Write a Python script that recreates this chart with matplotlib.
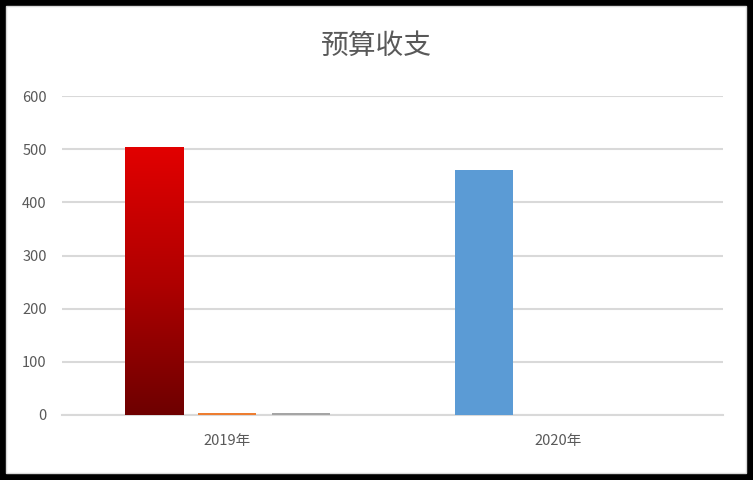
import matplotlib
matplotlib.use("Agg")
import matplotlib.pyplot as plt
import numpy as np
from matplotlib.patches import Rectangle
from matplotlib.colors import LinearSegmentedColormap

plt.rcParams['font.family'] = ['Noto Sans CJK SC', 'DejaVu Sans']

title = "预算收支"
categories = ["2019年", "2020年"]
series_names = ["系列1", "系列2", "系列3"]
series1 = [505, 460]
series2 = [3, 0]
series3 = [3, 0]
yticks = [0, 100, 200, 300, 400, 500, 600]

fig = plt.figure(figsize=(7.53, 4.80), dpi=100)
fig.patch.set_facecolor("black")
# white chart area with a thin light border
fig.patches.append(Rectangle((6 / 753, 7 / 480), 740 / 753, 467 / 480,
                             transform=fig.transFigure, facecolor="white",
                             edgecolor="#D9D9D9", linewidth=1, zorder=-5))

ax = fig.add_axes([62 / 753, 1 - 415 / 480, 661 / 753, 319 / 480])
ax.set_facecolor("none")
ax.set_zorder(2)

x = np.arange(len(categories))
w = 0.176
off = 0.222

b1 = ax.bar(x - off, series1, w, color=["#E00000", "#5B9BD5"], zorder=3, label=series_names[0])
b2 = ax.bar(x, series2, w, color="#ED7D31", zorder=3, label=series_names[1])
b3 = ax.bar(x + off, series3, w, color="#A5A5A5", zorder=3, label=series_names[2])

# gradient fill for the 2019 point of series 1
p = b1.patches[0]
x0, y0 = p.get_x(), p.get_y()
x1, y1 = x0 + p.get_width(), y0 + p.get_height()
cmap = LinearSegmentedColormap.from_list("redgrad", ["#6E0000", "#B00000", "#E20000"])
grad = np.linspace(0, 1, 256).reshape(-1, 1)
im = ax.imshow(grad, extent=[x0, x1, y0, y1], origin="lower", aspect="auto",
               cmap=cmap, zorder=4)
im.set_clip_path(p)
p.set_facecolor("none")

ax.set_xlim(-0.5, 1.5)
ax.set_ylim(0, 600)
ax.set_yticks(yticks)
ax.set_yticklabels([str(v) for v in yticks])
ax.set_xticks(x)
ax.set_xticklabels(categories)
ax.grid(axis="y", color="#D9D9D9", linewidth=1.5, zorder=0)
ax.set_axisbelow(True)
for s in ["top", "right", "left"]:
    ax.spines[s].set_visible(False)
ax.spines["bottom"].set_color("#D9D9D9")
ax.spines["bottom"].set_linewidth(1.5)
ax.spines["bottom"].set_zorder(2)
ax.tick_params(axis="both", length=0, colors="#595959", labelsize=10.5)
ax.tick_params(axis="y", pad=11)
ax.tick_params(axis="x", pad=14)

fig.text(376 / 753, 1 - 46 / 480, title, ha="center", va="center",
         fontsize=20, color="#595959")

fig.savefig("out.png", dpi=100, facecolor=fig.get_facecolor())
